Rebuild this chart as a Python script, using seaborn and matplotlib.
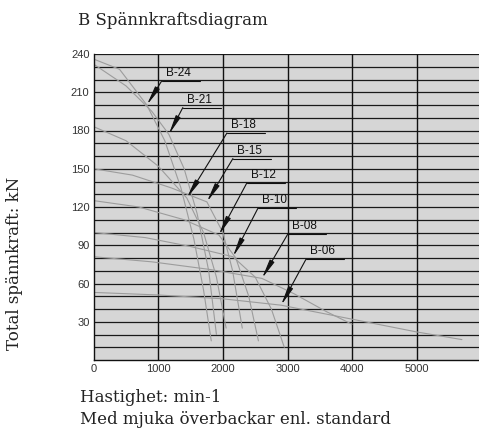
import numpy as np
import pandas as pd
import matplotlib
matplotlib.use("Agg")
import matplotlib.pyplot as plt
import seaborn as sns

# Belt types and their tension curves (speed in min-1, total tension in kN)
belts = ["B-24", "B-21", "B-18", "B-15", "B-12", "B-10", "B-08", "B-06"]

speed_b24 = [0, 400, 822, 1100, 1350, 1550, 1700, 1820]
force_b24 = [236, 228, 200, 172, 135, 95, 55, 15]
speed_b21 = [0, 500, 900, 1163, 1400, 1600, 1780, 1900]
force_b21 = [232, 215, 195, 177, 150, 115, 70, 20]
speed_b18 = [0, 500, 1000, 1442, 1700, 1900, 2050]
force_b18 = [183, 172, 152, 127, 100, 65, 25]
speed_b15 = [0, 600, 1200, 1752, 2000, 2150, 2300]
force_b15 = [150, 145, 135, 124, 100, 70, 25]
speed_b12 = [0, 700, 1400, 1938, 2200, 2400, 2550]
force_b12 = [125, 120, 110, 98, 80, 50, 15]
speed_b10 = [0, 800, 1500, 2155, 2500, 2750, 2950]
force_b10 = [100, 96, 89, 81, 65, 40, 10]
speed_b08 = [0, 900, 1800, 2604, 3100, 3600, 4000]
force_b08 = [81, 77, 71, 64, 52, 38, 28]
speed_b06 = [0, 1000, 2000, 2900, 3500, 4200, 5000, 5700]
force_b06 = [53, 51, 48, 43, 37, 30, 22, 16]

speeds = [speed_b24, speed_b21, speed_b18, speed_b15, speed_b12, speed_b10, speed_b08, speed_b06]
forces = [force_b24, force_b21, force_b18, force_b15, force_b12, force_b10, force_b08, force_b06]

# Callout placement: where each arrow points (speed) and the label elbow
arrow_speed = [822, 1163, 1442, 1752, 1938, 2155, 2604, 2900]
elbow_x = [1054, 1380, 2062, 2155, 2372, 2542, 3007, 3286]
elbow_y = [219, 198, 178, 158, 139, 119, 99, 79]

x_ticks = [0, 1000, 2000, 3000, 4000, 5000]
y_ticks = [30, 60, 90, 120, 150, 180, 210, 240]

title = "B Spännkraftsdiagram"
y_label = "Total spännkraft: kN"
x_label_1 = "Hastighet: min-1"
x_label_2 = "Med mjuka överbackar enl. standard"

df = pd.concat(
    [pd.DataFrame({"belt": b, "speed": s, "force": f}) for b, s, f in zip(belts, speeds, forces)],
    ignore_index=True,
)

sns.set_theme(style="white")
plt.rcParams["font.family"] = ["DejaVu Sans"]

W, H = 479, 430
fig = plt.figure(figsize=(W / 100, H / 100), dpi=100)
ax = fig.add_axes([93.7 / W, (H - 360) / H, (W - 93.7) / W, (360 - 54) / H])
ax.set_facecolor("#d6d6d6")

# grid: every 10 kN horizontally, every 1000 min-1 vertically
for yv in range(10, 241, 10):
    ax.axhline(yv, color="#1a1a1a", lw=0.9, zorder=1)
for xv in x_ticks[1:]:
    ax.axvline(xv, color="#111111", lw=1.0, zorder=1)

sns.lineplot(data=df, x="speed", y="force", units="belt", estimator=None, sort=False,
             color="#9c9c9c", lw=0.8, ax=ax, zorder=2, legend=False)

ax.set_xlim(0, (W - 93.7) / 64.6 * 1000)
ax.set_ylim(0, 240)
ax.set_xticks(x_ticks)
ax.set_yticks(y_ticks)
tick_font = dict(family="Liberation Sans", size=8)
ax.set_xticklabels([str(t) for t in x_ticks], color="#333333", **tick_font)
ax.set_yticklabels([str(t) for t in y_ticks], color="#333333", **tick_font)
ax.tick_params(axis="both", length=0, pad=3)
ax.set_xlabel("")
ax.set_ylabel("")
for side in ["top", "right"]:
    ax.spines[side].set_visible(False)
for side in ["left", "bottom"]:
    ax.spines[side].set_color("#111111")
    ax.spines[side].set_linewidth(1.0)

# callouts
ul_len = 590
for name, s, f, ax_s, ex, ey in zip(belts, speeds, forces, arrow_speed, elbow_x, elbow_y):
    tip_y = np.interp(ax_s, s, f)
    ax.annotate("", xy=(ax_s, tip_y), xytext=(ex, ey),
                arrowprops=dict(arrowstyle="-|>,head_length=0.95,head_width=0.13",
                                color="#111111", lw=0.8, shrinkA=0, shrinkB=0),
                zorder=4)
    ax.plot([ex, ex + ul_len], [ey, ey], color="#111111", lw=0.8, zorder=4)
    ax.text(ex + 60, ey + 1.5, name, ha="left", va="bottom", color="#111111",
            family="Liberation Sans", size=8.5, zorder=5)

serif = dict(family="DejaVu Serif", color="#222222")
fig.text(78 / W, 1 - 20.5 / H, title, ha="left", va="center", size=12, **serif)
fig.text(15 / W, 1 - 263 / H, y_label, ha="center", va="center", rotation=90, size=12, **serif)
fig.text(80 / W, 1 - 397 / H, x_label_1, ha="left", va="center", size=12, **serif)
fig.text(80 / W, 1 - 419 / H, x_label_2, ha="left", va="center", size=12, **serif)

fig.savefig("out.png", dpi=100)
